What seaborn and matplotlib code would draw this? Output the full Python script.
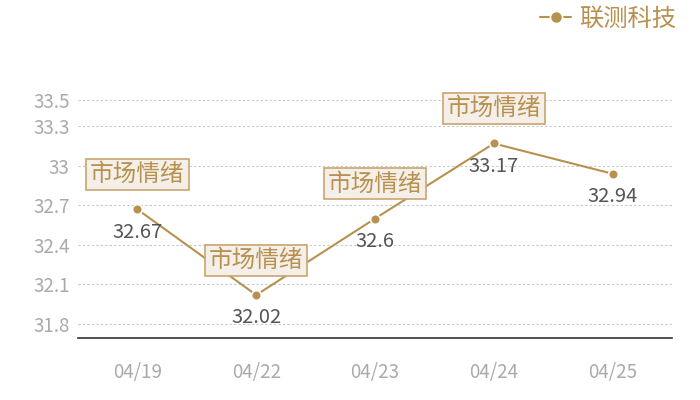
import matplotlib
matplotlib.use("Agg")
import matplotlib.pyplot as plt
import seaborn as sns
import pandas as pd

dates = ["04/19", "04/22", "04/23", "04/24", "04/25"]
values = [32.67, 32.02, 32.6, 33.17, 32.94]
series_name = "联测科技"
note_text = "市场情绪"
note_flags = [True, True, True, True, False]
yticks = [31.8, 32.1, 32.4, 32.7, 33, 33.3, 33.5]
ytick_labels = ["31.8", "32.1", "32.4", "32.7", "33", "33.3", "33.5"]

sns.set_theme(style="white")
plt.rcParams['font.family'] = ['Noto Sans CJK SC', 'DejaVu Sans']

gold = "#b8914f"
df = pd.DataFrame({"date": dates, "value": values, "series": series_name})

fig = plt.figure(figsize=(7, 4), dpi=100)
ax = fig.add_axes([78/700, 1-338/400, (672-78)/700, (338-100)/400])

sns.lineplot(data=df, x="date", y="value", hue="series", palette=[gold],
             marker="o", markersize=7, markeredgecolor="white", markeredgewidth=1.2,
             linewidth=1.5, ax=ax, sort=False, zorder=3)

ax.set_xlim(-0.5, len(dates) - 0.5)
ax.set_ylim(31.8 - 14/131.7, 33.5)
ax.set_yticks(yticks)
ax.set_yticklabels(ytick_labels)
ax.set_xlabel("")
ax.set_ylabel("")
for y in yticks:
    ax.axhline(y, color="#c8c8c8", linestyle=(0, (2, 2)), linewidth=0.8, zorder=0)
for s in ["top", "right", "left"]:
    ax.spines[s].set_visible(False)
ax.spines["bottom"].set_color("#333333")
ax.spines["bottom"].set_linewidth(1.2)
ax.tick_params(axis="both", length=0, labelsize=13.5, colors="#aaaaaa")
ax.tick_params(axis="x", pad=17)
ax.tick_params(axis="y", pad=6)

for i, (d, v) in enumerate(zip(dates, values)):
    ax.annotate(f"{v:g}", (i, v), xytext=(0, -16.5), textcoords="offset points",
                ha="center", va="center", fontsize=14.5, color="#555555", zorder=5)
    if note_flags[i]:
        ax.annotate(note_text, (i, v), xytext=(0, 25), textcoords="offset points",
                    ha="center", va="center", fontsize=17, color=gold, zorder=6,
                    annotation_clip=False,
                    bbox=dict(boxstyle="square,pad=0.17", facecolor="#f4efe8",
                              edgecolor="#c9a66e", linewidth=1.2))

leg = ax.legend(loc="upper right", bbox_to_anchor=(692/700, 1.025), bbox_transform=fig.transFigure,
                frameon=False, fontsize=17.5, handlelength=1.25, handletextpad=0.35,
                borderpad=0.15, markerscale=1.25)
for t in leg.get_texts():
    t.set_color(gold)

fig.savefig("out.png", dpi=100)
